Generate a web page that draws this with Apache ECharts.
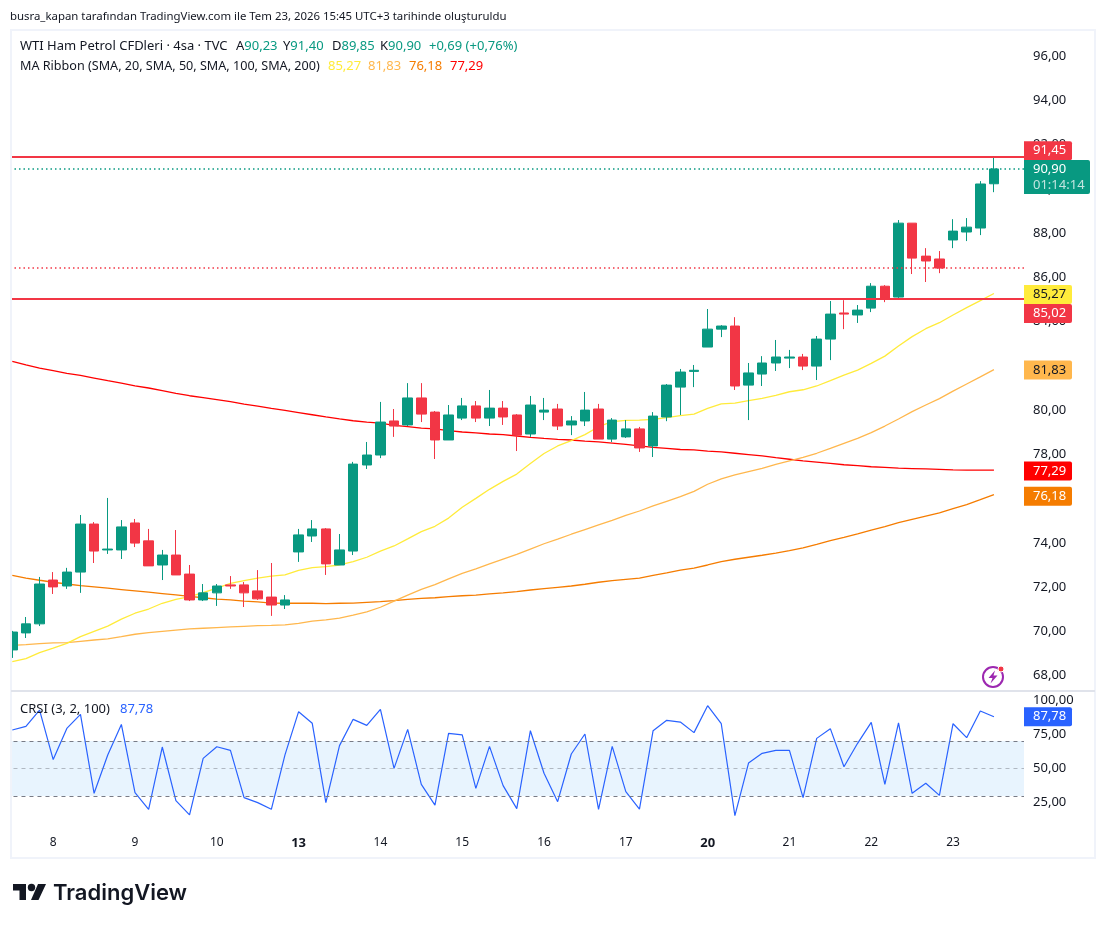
<!DOCTYPE html>
<html><head><meta charset="utf-8">
<style>html,body{margin:0;padding:0;background:#fff}#c{width:1106px;height:925px}</style>
<script src="https://cdn.jsdelivr.net/npm/echarts@6/dist/echarts.min.js"></script>
</head><body><div id="c"></div>
<script>
const dayTicks=['8','9','10','13','14','15','16','17','20','21','22','23'];
const opens=[69.16,69.93,70.34,72.32,72.05,72.68,74.85,73.68,73.68,74.90,74.09,73.00,73.45,72.59,71.42,71.74,72.10,72.10,71.83,71.55,71.19,73.59,74.31,74.63,73.00,73.63,77.52,77.97,79.51,79.33,80.55,79.91,78.65,79.64,80.19,79.64,80.09,79.78,78.92,79.91,80.05,79.33,79.51,80.05,78.69,78.79,79.15,78.38,79.69,81.04,81.75,82.85,83.66,83.80,81.13,81.63,82.13,82.35,82.40,81.99,83.21,84.39,84.30,84.61,85.60,85.11,88.45,86.96,86.83,87.69,88.05,88.23,90.23];
const highs=[70.02,70.65,72.46,72.68,72.87,75.26,74.94,76.03,75.03,75.08,74.63,73.68,74.58,73.00,72.14,72.14,72.50,72.23,72.77,73.09,71.64,74.63,75.03,74.67,74.40,77.66,78.56,80.37,80.05,81.22,81.22,79.96,80.23,80.55,80.41,80.91,80.41,79.82,80.64,80.55,80.28,79.73,80.82,80.28,79.64,79.55,79.24,79.91,81.18,81.86,82.04,84.57,83.84,84.20,82.13,82.44,83.17,82.72,82.54,83.35,84.93,84.97,84.75,85.74,85.65,88.59,88.45,87.32,87.19,88.63,88.68,90.35,91.40];
const lows=[68.80,69.70,70.24,71.69,71.92,71.74,73.09,73.50,73.27,73.81,72.96,72.32,72.55,71.37,71.37,71.15,71.92,71.10,71.42,70.70,71.01,73.14,74.04,72.55,73.00,73.45,77.34,77.83,78.79,79.28,79.46,77.79,78.65,79.55,79.46,79.28,79.33,78.15,78.79,79.55,79.10,78.87,79.28,78.69,78.56,78.74,78.11,77.88,79.50,79.78,81.04,82.85,83.30,80.91,79.55,81.09,81.77,81.90,81.81,81.36,82.26,83.66,83.94,84.43,84.88,85.02,86.15,85.79,86.19,87.32,87.64,87.91,89.85];
const closes=[69.97,70.34,72.14,72.01,72.68,74.85,73.63,73.72,74.72,73.99,72.96,73.45,72.55,71.42,71.74,72.05,72.05,71.74,71.47,71.19,71.42,74.36,74.63,73.05,73.68,77.56,77.97,79.46,79.28,80.55,79.82,78.65,79.78,80.19,79.64,80.09,79.69,78.87,80.23,80.00,79.28,79.51,80.00,78.69,79.55,79.15,78.29,79.73,81.13,81.72,81.80,83.66,83.80,81.09,81.68,82.13,82.40,82.40,81.99,83.21,84.34,84.34,84.52,85.60,85.02,88.45,86.87,86.74,86.42,88.09,88.27,90.22,90.90];
const ma20=[68.63,68.77,69.04,69.24,69.46,69.76,70.00,70.24,70.55,70.82,71.01,71.27,71.45,71.57,71.75,71.95,72.17,72.29,72.41,72.50,72.55,72.76,72.88,72.93,73.00,73.15,73.35,73.63,73.86,74.18,74.51,74.75,75.12,75.61,76.01,76.42,76.78,77.11,77.59,78.04,78.38,78.62,78.89,79.25,79.48,79.54,79.55,79.58,79.66,79.75,79.82,80.08,80.28,80.32,80.43,80.53,80.67,80.83,80.92,81.09,81.33,81.58,81.81,82.11,82.44,82.90,83.32,83.68,83.95,84.30,84.63,84.95,85.27];
const ma50=[69.37,69.40,69.45,69.48,69.49,69.55,69.61,69.66,69.76,69.87,69.94,70.00,70.06,70.11,70.14,70.17,70.20,70.23,70.26,70.27,70.29,70.36,70.46,70.52,70.60,70.73,70.88,71.09,71.37,71.64,71.90,72.11,72.37,72.62,72.82,73.05,73.27,73.48,73.72,73.96,74.17,74.39,74.60,74.81,75.02,75.24,75.44,75.67,75.88,76.09,76.33,76.65,76.89,77.07,77.22,77.37,77.55,77.71,77.86,78.05,78.27,78.50,78.72,78.98,79.28,79.60,79.93,80.23,80.52,80.86,81.18,81.50,81.83];
const ma100=[72.53,72.41,72.31,72.22,72.14,72.07,72.01,71.95,71.89,71.83,71.77,71.71,71.65,71.58,71.52,71.46,71.42,71.37,71.33,71.28,71.27,71.27,71.27,71.25,71.27,71.28,71.31,71.34,71.39,71.45,71.49,71.52,71.57,71.61,71.64,71.69,71.74,71.80,71.87,71.93,71.99,72.05,72.13,72.22,72.29,72.35,72.41,72.53,72.64,72.77,72.86,73.00,73.15,73.26,73.35,73.44,73.54,73.65,73.77,73.93,74.10,74.25,74.41,74.58,74.73,74.91,75.06,75.21,75.36,75.55,75.73,75.95,76.18];
const ma200=[82.20,82.04,81.90,81.78,81.66,81.57,81.45,81.33,81.22,81.10,81.00,80.88,80.76,80.65,80.56,80.47,80.38,80.27,80.18,80.08,79.99,79.89,79.79,79.69,79.60,79.52,79.46,79.41,79.31,79.25,79.19,79.15,79.07,79.01,78.97,78.92,78.89,78.83,78.77,78.72,78.68,78.65,78.60,78.56,78.51,78.45,78.38,78.32,78.27,78.22,78.20,78.15,78.11,78.05,77.99,77.93,77.85,77.78,77.71,77.65,77.59,77.53,77.49,77.44,77.41,77.38,77.36,77.34,77.32,77.30,77.29,77.29,77.29];
const crsi=[78.1,80.8,92.7,56.5,79.3,89.5,31.9,59.9,82.2,32.4,20.2,65.7,26.5,16.1,57.4,65.9,63.3,28.7,25.1,20.2,60.0,91.5,83.0,25.1,66.7,85.9,81.5,93.2,50.1,78.6,38.4,23.3,75.7,74.5,35.5,66.2,37.5,20.7,77.6,46.5,25.8,60.6,75.2,20.2,66.2,33.1,20.4,77.6,85.2,83.9,76.2,95.9,82.7,15.6,54.0,61.1,63.3,63.3,28.7,72.0,79.1,51.3,68.4,83.7,38.4,83.4,31.9,39.2,30.4,82.7,72.5,92.0,87.78];
const priceTicks=[68,70,72,74,76,78,80,82,84,86,88,90,92,94,96];
const crsiTicks=[25,50,75,100];
const resistance=91.45, support=85.02, lastClose=90.90, prevLevel=86.45;
const crsiUpper=70, crsiMiddle=50, crsiLower=30;
const priceTagValues=[91.45,90.90,85.27,85.02,81.83,77.29,76.18];
const priceTagFill=['#F23645','#089981','#FFEB3B','#F23645','#FFB74D','#FF0000','#F57C00'];
const priceTagInk=['#fff','#fff','#131722','#fff','#131722','#fff','#fff'];
const priceTagShift=[-6,-1,1,14.5,0.5,1,1.5];
const NUM=v=>v.toFixed(2).replace('.',',');
const FONT='"Noto Sans",sans-serif';
const LAST=closes.length-1, N=75, BAND=13.634;
const cats=[];for(let i=0;i<N;i++){const k=(i-3)/6;cats.push(Number.isInteger(k)&&dayTicks[k]?dayTicks[k]:'');}
const candles=closes.map((c,i)=>[opens[i],c,lows[i],highs[i]]);
const GREEN='#089981',RED='#F23645';
function tagRender(fills,inks,shifts,extra){
  return (params,api)=>{
    const i=params.dataIndex,y=api.coord([LAST,api.value(1)])[1]+shifts[i];
    const two=extra&&extra[i];
    const h=two?34:19,w=two?66:48;
    const top=two?y-8:y-9.5;
    const kids=[{type:'rect',shape:{x:1024,y:top,width:w,height:h,r:[0,2,2,0]},style:{fill:fills[i]}},
      {type:'text',style:{x:1033,y:top+9.5,text:NUM(api.value(1)),fill:inks[i],font:'13px '+FONT,verticalAlign:'middle'}}];
    if(two)kids.push({type:'text',style:{x:1033,y:top+25,text:two,fill:'rgba(255,255,255,.75)',font:'13px '+FONT,verticalAlign:'middle'}});
    return {type:'group',children:kids};
  };
}
const maLine=(name,data,color)=>({name,type:'line',data,xAxisIndex:0,yAxisIndex:0,showSymbol:false,symbol:'none',z:2,silent:true,lineStyle:{color,width:1.3},itemStyle:{color}});
const txt=(left,top,parts,size)=>{
  const rich={};let text='';
  parts.forEach((p,i)=>{rich['r'+i]={color:p[1],fontSize:size,fontFamily:FONT};text+='{r'+i+'|'+p[0]+'}';});
  return {left,top,padding:0,text,textStyle:{fontFamily:FONT,fontSize:size,fontWeight:'normal',rich}};
};
const INK='#131722';
const chart=echarts.init(document.getElementById('c'),null,{renderer:'canvas'});
chart.setOption({
  animation:false,backgroundColor:'#fff',
  textStyle:{fontFamily:FONT},
  title:[
    txt(10,11,[['busra_kapan tarafından TradingView.com ile Tem 23, 2026 15:45 UTC+3 tarihinde oluşturuldu',INK]],11.4),
    txt(20,40,[['WTI Ham Petrol CFDleri · 4sa · TVC',INK]],13),
    txt(236,40,[['A',INK],['90,23',GREEN]],13),
    txt(283,40,[['Y',INK],['91,40',GREEN]],13),
    txt(332,40,[['D',INK],['89,85',GREEN]],13),
    txt(380,40,[['K',INK],['90,90',GREEN]],13),
    txt(429,40,[['+0,69 (+0,76%)',GREEN]],13),
    txt(20,60,[['MA Ribbon (SMA, 20, SMA, 50, SMA, 100, SMA, 200)',INK]],12.6),
    txt(328,60,[['85,27','#FFEB3B']],13),
    txt(368,60,[['81,83','#FFB74D']],13),
    txt(409,60,[['76,18','#F57C00']],13),
    txt(450,60,[['77,29','#FF0000']],13),
    txt(20,703,[['CRSI (3, 2, 100)',INK]],13),
    txt(120,703,[['87,78','#2962FF']],13)
  ],
  grid:[
    {left:5.48,top:30,width:N*BAND,height:660},
    {left:5.48,top:691,width:N*BAND,height:139}
  ],
  xAxis:[
    {type:'category',gridIndex:0,data:cats,show:false,boundaryGap:true},
    {type:'category',gridIndex:1,data:cats,boundaryGap:true,axisLine:{show:false},axisTick:{show:false},splitLine:{show:false},
     axisLabel:{interval:0,margin:7,hideOverlap:false,fontFamily:FONT,fontSize:12,color:INK,
       formatter:v=>(v==='13'||v==='20')?'{b|'+v+'}':v,rich:{b:{fontWeight:'bold',fontSize:13,color:INK,fontFamily:FONT}}}}
  ],
  yAxis:[
    {type:'value',gridIndex:0,position:'right',min:67.35,max:97.18,axisLine:{show:false},axisTick:{show:false},splitLine:{show:false},
     axisLabel:{customValues:priceTicks,margin:5,padding:[1,0,0,0],fontFamily:FONT,fontSize:13,color:INK,formatter:NUM}},
    {type:'value',gridIndex:1,position:'right',min:5.1,max:106.6,axisLine:{show:false},axisTick:{show:false},splitLine:{show:false},
     axisLabel:{customValues:crsiTicks,margin:5,fontFamily:FONT,fontSize:13,color:INK,formatter:NUM}}
  ],
  series:[
    maLine('MA200',ma200,'#FF0000'),
    maLine('MA100',ma100,'#F57C00'),
    maLine('MA50',ma50,'#FFB74D'),
    maLine('MA20',ma20,'#FFEB3B'),
    {name:'WTI',type:'candlestick',data:candles,xAxisIndex:0,yAxisIndex:0,z:3,barWidth:10,silent:true,
     itemStyle:{color:GREEN,color0:RED,borderColor:GREEN,borderColor0:RED,borderWidth:1,borderColorDoji:GREEN},
     markLine:{silent:true,symbol:'none',animation:false,label:{show:false},
       data:[
        {yAxis:resistance,lineStyle:{color:RED,width:2,type:'solid'}},
        {yAxis:support,lineStyle:{color:RED,width:2,type:'solid'}},
        {yAxis:lastClose,lineStyle:{color:GREEN,width:1.5,type:[1.5,3]}},
        {yAxis:prevLevel,lineStyle:{color:RED,width:1.5,type:[1.5,3]}}
       ]}},
    {name:'CRSI',type:'line',data:crsi,xAxisIndex:1,yAxisIndex:1,showSymbol:false,symbol:'none',z:3,silent:true,lineStyle:{color:'#2962FF',width:1.2},itemStyle:{color:'#2962FF'},
     markArea:{silent:true,itemStyle:{color:'rgba(33,150,243,0.1)'},data:[[{yAxis:crsiUpper},{yAxis:crsiLower}]]},
     markLine:{silent:true,symbol:'none',label:{show:false},data:[
        {yAxis:crsiUpper,lineStyle:{color:'#787B86',width:1,type:[4,4]}},
        {yAxis:crsiMiddle,lineStyle:{color:'rgba(120,123,134,0.5)',width:1,type:[4,4]}},
        {yAxis:crsiLower,lineStyle:{color:'#787B86',width:1,type:[4,4]}}]}},
    {type:'custom',name:'priceTags',xAxisIndex:0,yAxisIndex:0,z:60,silent:true,clip:false,coordinateSystem:'cartesian2d',
     data:priceTagValues.map(v=>[LAST,v]),renderItem:tagRender(priceTagFill,priceTagInk,priceTagShift,{1:'01:14:14'})},
    {type:'custom',name:'crsiTag',xAxisIndex:1,yAxisIndex:1,z:60,silent:true,clip:false,coordinateSystem:'cartesian2d',
     data:[[LAST,crsi[LAST]]],renderItem:tagRender(['#2962FF'],['#fff'],[0],null)}
  ],
  graphic:[
    {type:'rect',z:50,silent:true,shape:{x:0,y:29,width:10,height:830},style:{fill:'#fff'}},
    {type:'rect',z:50,silent:true,shape:{x:1024,y:31,width:5,height:798},style:{fill:'#fff'}},
    {type:'rect',z:51,silent:true,shape:{x:11,y:30,width:1084,height:828},style:{fill:'none',stroke:'#F0F3FA',lineWidth:2}},
    {type:'line',z:51,silent:true,shape:{x1:11,y1:691,x2:1095,y2:691},style:{stroke:'#E0E3EB',lineWidth:2}},
    {type:'circle',z:51,silent:true,shape:{cx:993,cy:677,r:10},style:{fill:'#fff',stroke:'#9C27B0',lineWidth:2}},
    {type:'polygon',z:51,silent:true,shape:{points:[[995,670.5],[988.5,678],[992.5,678],[990.5,683.5],[997.5,675.5],[993.5,675.5]]},style:{fill:'#9C27B0'}},
    {type:'circle',z:52,silent:true,shape:{cx:1001,cy:669,r:3},style:{fill:'#F23645',stroke:'#fff',lineWidth:1}},
    {type:'polygon',z:51,silent:true,shape:{points:[[13,884],[26,884],[26,900],[19.5,900],[19.5,890.5],[13,890.5]]},style:{fill:INK}},
    {type:'polygon',z:51,silent:true,shape:{points:[[38,884],[46,884],[38.5,900],[31,900]]},style:{fill:INK}},
    {type:'circle',z:51,silent:true,shape:{cx:31.5,cy:887.5,r:3.7},style:{fill:INK}},
    {type:'text',z:51,silent:true,x:53,y:893,style:{text:'TradingView',font:'600 22px Inter, sans-serif',fill:INK,verticalAlign:'middle'}}
  ]
});
</script></body></html>
